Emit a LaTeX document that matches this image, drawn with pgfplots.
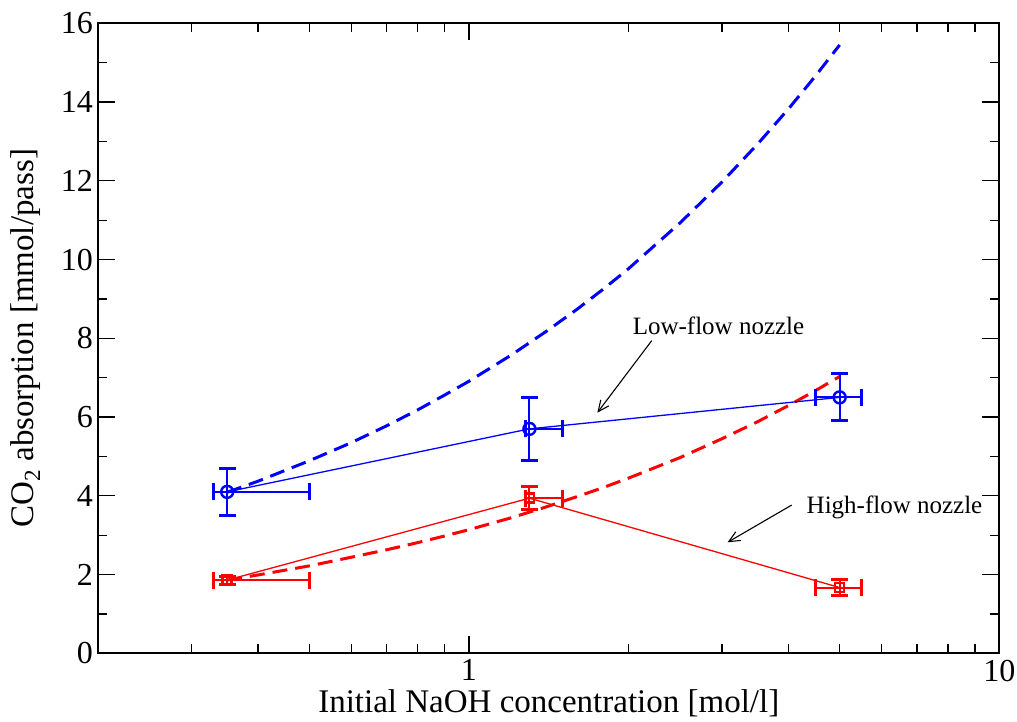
\documentclass[border=0pt]{standalone}
\usepackage{pgfplots}
\pgfplotsset{compat=1.18}
\usepackage{fontspec}
\setmainfont{Liberation Serif}
\usetikzlibrary{arrows.meta}
\definecolor{myblue}{RGB}{0,0,255}
\definecolor{myred}{RGB}{255,0,0}
\begin{document}
\begin{tikzpicture}
\begin{axis}[
  scale only axis,
  width=901pt, height=630pt,
  xmode=log, log basis x=10,
  xmin=0.2, xmax=10, ymin=0, ymax=16,
  xtick={1,10}, xticklabels={1,10},
  minor xtick={0.3,0.4,0.5,0.6,0.7,0.8,0.9,2,3,4,5,6,7,8,9},
  ytick={0,2,4,6,8,10,12,14,16},
  minor ytick={1,3,5,7,9,11,13,15},
  tick align=inside,
  major tick length=17pt, minor tick length=9pt,
  every tick/.style={black, line width=1.3pt},
  axis line style={line width=2pt},
  /pgf/number format/assume math mode=true,
  tick label style={font=\rmfamily\fontsize{32}{38}\selectfont},
  yticklabel style={xshift=-2pt},
  xticklabel style={yshift=-3pt},
  xlabel={Initial NaOH concentration [mol/l]},
  ylabel={CO\textsubscript{2} absorption [mmol/pass]},
  label style={font=\rmfamily\fontsize{33}{40}\selectfont},
  xlabel style={at={(axis description cs:0.5,0)}, anchor=base, yshift=-59pt},
  ylabel style={at={(axis description cs:0,0.5)}, anchor=base, rotate=0, yshift=65pt},
  clip=false,
]
% dashed model curves
\addplot[myblue, line width=3pt, dash pattern=on 15pt off 8pt, no marks] coordinates {
(0.35,4.09) (0.4,4.37) (0.5,4.89) (0.6,5.35) (0.7,5.78) (0.8,6.18) (0.9,6.56) (1.0,6.91)
(1.2,7.57) (1.4,8.18) (1.6,8.74) (1.8,9.27) (2.0,9.77) (2.5,10.93) (3.0,11.97) (3.5,12.93)
(4.0,13.82) (4.5,14.66) (5.0,15.45)};
\addplot[myred, line width=3pt, dash pattern=on 15pt off 8pt, no marks] coordinates {
(0.35,1.86) (0.4,1.99) (0.5,2.22) (0.6,2.44) (0.7,2.63) (0.8,2.81) (0.9,2.98) (1.0,3.14)
(1.2,3.44) (1.4,3.72) (1.6,3.98) (1.8,4.22) (2.0,4.45) (2.5,4.97) (3.0,5.45) (3.5,5.88)
(4.0,6.29) (4.5,6.67) (5.0,7.03)};
% measured data
\addplot[myblue, line width=1.3pt, mark=o, mark size=6pt,
  mark options={solid, line width=2.4pt},
  error bars/.cd, x dir=both, y dir=both, x explicit, y explicit,
  error bar style={line width=2pt},
  error mark options={line width=3pt, mark size=8.5pt, rotate=90}]
coordinates {
(0.35,4.1) += (0.15,0.6) -= (0.02,0.6)
(1.3,5.7) += (0.2,0.8) -= (0.02,0.8)
(5,6.5) += (0.5,0.6) -= (0.5,0.6)
};
\addplot[myred, line width=1.3pt, mark=square, mark size=4.5pt,
  mark options={solid, line width=2.4pt},
  error bars/.cd, x dir=both, y dir=both, x explicit, y explicit,
  error bar style={line width=2pt},
  error mark options={line width=3pt, mark size=8.5pt, rotate=90}]
coordinates {
(0.35,1.86) += (0.15,0.1) -= (0.02,0.1)
(1.3,3.94) += (0.2,0.3) -= (0.02,0.3)
(5,1.67) += (0.5,0.2) -= (0.5,0.2)
};
% annotations
\node[anchor=base west, font=\rmfamily\fontsize{25}{30}\selectfont, inner sep=0pt] at (axis cs:2.035,8.09) {Low-flow nozzle};
\node[anchor=base west, font=\rmfamily\fontsize{25}{30}\selectfont, inner sep=0pt] at (axis cs:4.33,3.556) {High-flow nozzle};
\draw[line width=1.1pt, -{Straight Barb[length=11pt,width=10pt]}] (axis cs:2.211,7.94) -- (axis cs:1.746,6.11);
\draw[line width=1.1pt, -{Straight Barb[length=11pt,width=10pt]}] (axis cs:4.061,3.766) -- (axis cs:3.074,2.819);
\end{axis}
\pgfresetboundingbox
\path ([xshift=-98.3pt,yshift=-67.7pt]current axis.south west) rectangle ([xshift=17.7pt,yshift=23.3pt]current axis.north east);
\end{tikzpicture}
\end{document}
